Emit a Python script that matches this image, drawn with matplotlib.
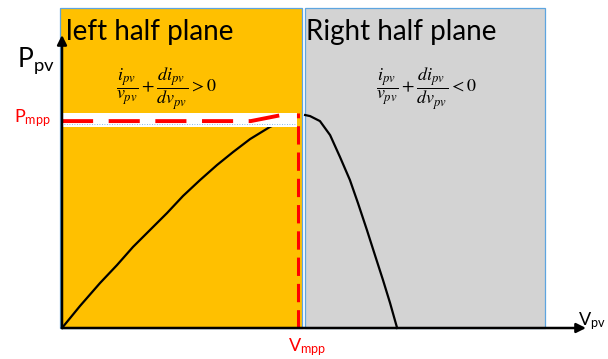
import matplotlib.pyplot as plt
from matplotlib.patches import Rectangle

plt.rcParams['font.family'] = ['Lato', 'DejaVu Sans']
plt.rcParams['mathtext.fontset'] = 'custom'
plt.rcParams['mathtext.rm'] = 'Lato'
plt.rcParams['mathtext.it'] = 'Lato:italic'

# P-V curve of the panel (v normalised to v_mpp, P normalised to P_mpp)
v_rise = [0.0, 0.076, 0.161, 0.233, 0.301, 0.373, 0.445, 0.513, 0.585,
          0.657, 0.725, 0.797, 0.881, 0.945]
p_rise = [0.0, 0.105, 0.215, 0.301, 0.388, 0.469, 0.550, 0.632, 0.708,
          0.780, 0.842, 0.904, 0.962, 0.995]
v_fall = [1.03, 1.051, 1.093, 1.136, 1.178, 1.22, 1.254, 1.292, 1.326,
          1.36, 1.390, 1.42]
p_fall = [1.019, 1.014, 0.990, 0.923, 0.818, 0.708, 0.598, 0.469, 0.349,
          0.230, 0.120, 0.0]

v_mpp = 1.0
p_mpp = 0.99
mpp_line_v = [0.0, 0.80, 0.935]
mpp_line_p = [p_mpp, p_mpp, 1.02]

left_rule = r'$\dfrac{i_{pv}}{v_{pv}}+\dfrac{di_{pv}}{dv_{pv}}>0$'
right_rule = r'$\dfrac{i_{pv}}{v_{pv}}+\dfrac{di_{pv}}{dv_{pv}}<0$'

# pixel -> data scales used for the layout
sx, sy = 236.0, 209.0
x0, y0 = 62.0, 328.0
W, H = 608, 359


def vx(px):
    return (px - x0) / sx


def py(pyx):
    return (y0 - pyx) / sy


fig = plt.figure(figsize=(W / 100, H / 100), dpi=100)
ax = fig.add_axes([0, 0, 1, 1])
ax.set_xlim(vx(0), vx(W))
ax.set_ylim(py(H), py(0))
ax.axis('off')

edge = '#5DA5E0'
ax.add_patch(Rectangle((vx(60), 0), vx(302) - vx(60), py(8), fc='#FFC000',
                       ec=edge, lw=0.9, zorder=1))
ax.add_patch(Rectangle((vx(305), 0), vx(545) - vx(305), py(8), fc='#D3D3D3',
                       ec=edge, lw=0.9, zorder=1))

# curve
ax.plot(v_rise, p_rise, color='black', lw=1.6, zorder=2)
ax.plot(v_fall, p_fall, color='black', lw=1.6, zorder=2)

# white band behind the P_mpp line
ax.add_patch(Rectangle((vx(61), py(127)), vx(297) - vx(61), py(112.5) - py(127),
                       fc='white', ec='none', zorder=3))
ax.plot([vx(64), vx(296)], [py(124), py(124)], color=edge, lw=0.6,
        ls=(0, (1, 2)), zorder=3)

# MPP markers
ax.plot(mpp_line_v, mpp_line_p, color='#FF0000', lw=2.8, zorder=4,
        dashes=(8, 4), solid_capstyle='butt')
ax.plot([v_mpp, v_mpp], [0, py(113)], color='#FF0000', lw=2.2, zorder=4,
        dashes=(6, 2.6))

# axes arrows
ax.annotate('', xy=(0, py(35)), xytext=(0, 0),
            arrowprops=dict(arrowstyle='-|>', lw=1.8, color='black',
                            mutation_scale=14, shrinkA=0, shrinkB=0), zorder=5)
ax.annotate('', xy=(vx(586), 0), xytext=(0, 0),
            arrowprops=dict(arrowstyle='-|>', lw=1.8, color='black',
                            mutation_scale=14, shrinkA=0, shrinkB=0), zorder=5)

# labels
def ft(px, pyx):
    return px / W, 1 - pyx / H


fig.text(*ft(66, 40), 'left half plane', fontsize=20, va='baseline')
fig.text(*ft(306, 40), 'Right half plane', fontsize=20, va='baseline')
fig.text(*ft(166, 89), left_rule, fontsize=13, ha='center', va='center',
         math_fontfamily='stix')
fig.text(*ft(426, 89), right_rule, fontsize=13, ha='center', va='center',
         math_fontfamily='stix')

fig.text(*ft(17, 67), r'$\mathrm{P_{pv}}$', fontsize=19, va='baseline')
fig.text(*ft(14, 122.5), r'$\mathrm{P_{mpp}}$', fontsize=13, va='baseline',
         color='#FF0000')
fig.text(*ft(307, 351), r'$\mathrm{V_{mpp}}$', fontsize=13, va='baseline',
         ha='center', color='#FF0000')
fig.text(*ft(578, 325), r'$\mathrm{V_{pv}}$', fontsize=13, va='baseline')

fig.savefig('out.png', dpi=100)
